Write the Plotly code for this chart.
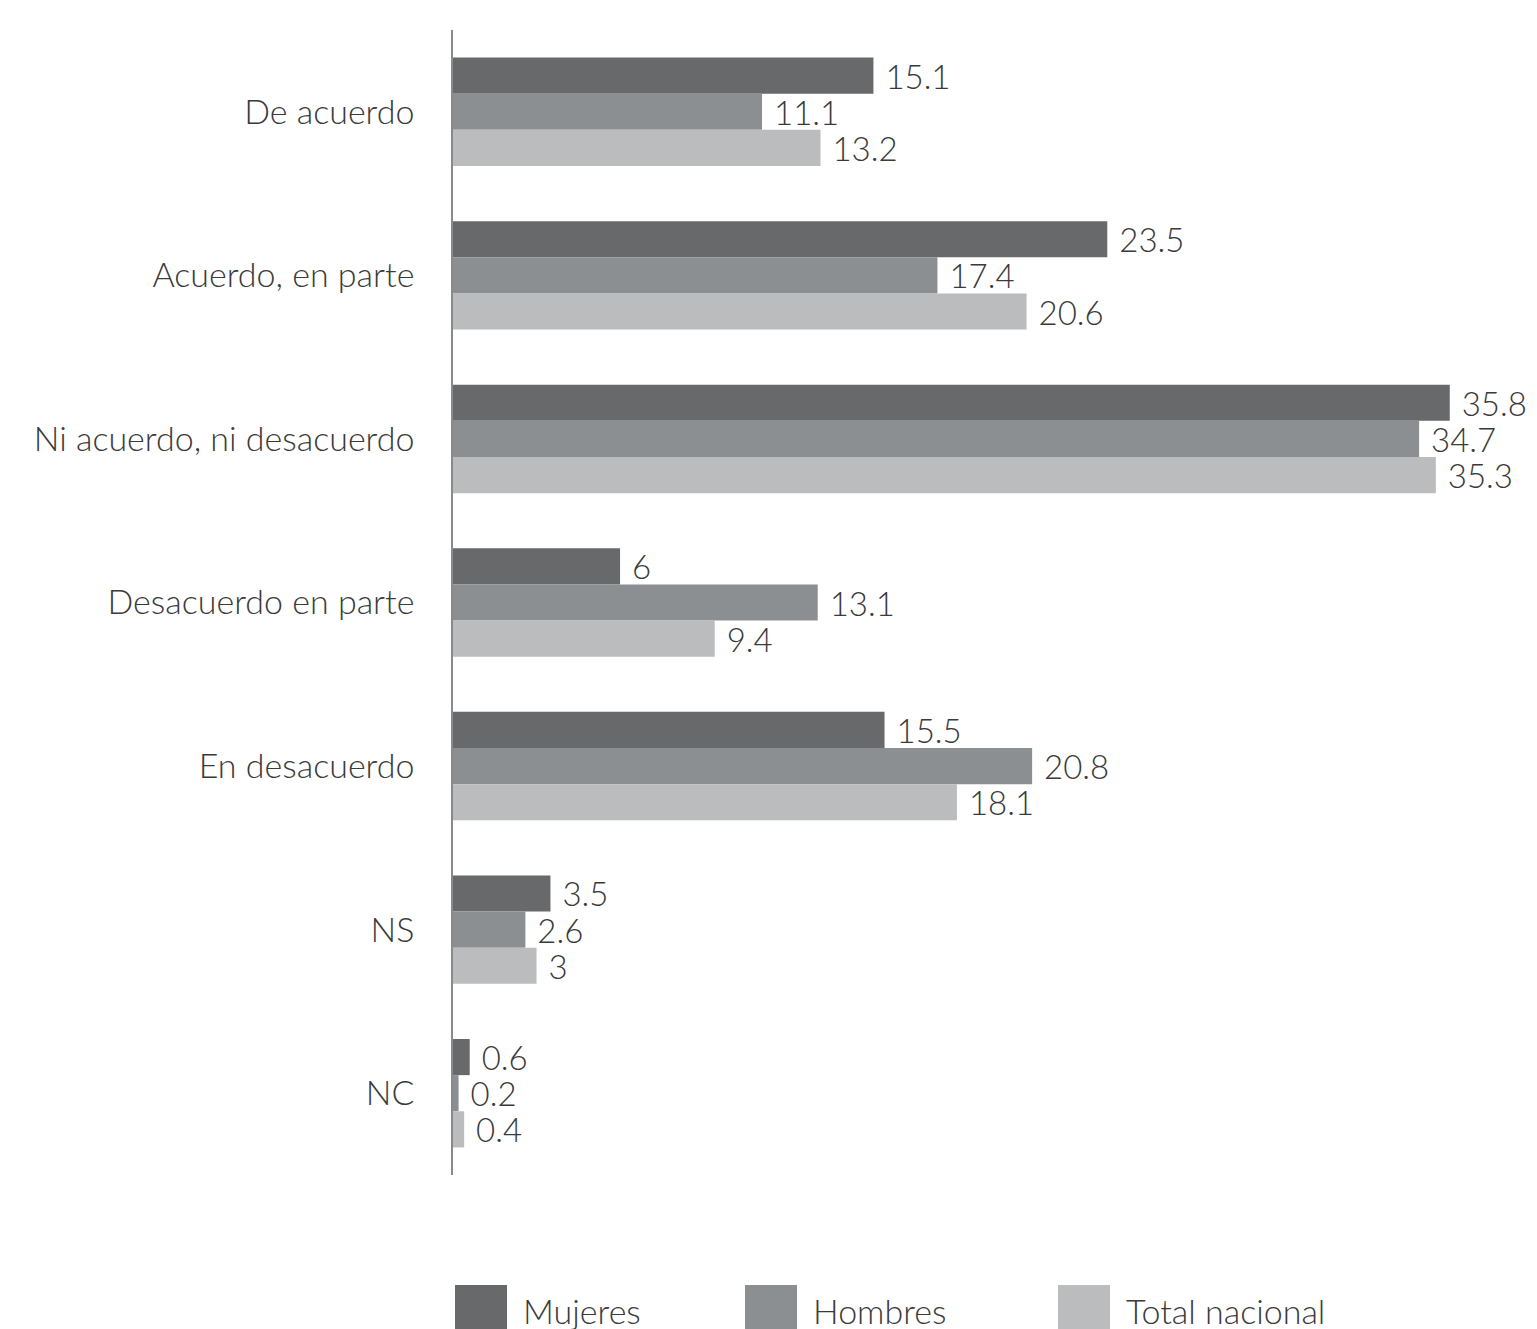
import plotly.graph_objects as go

categories = ["De acuerdo", "Acuerdo, en parte", "Ni acuerdo, ni desacuerdo",
              "Desacuerdo en parte", "En desacuerdo", "NS", "NC"]
mujeres = [15.1, 23.5, 35.8, 6, 15.5, 3.5, 0.6]
hombres = [11.1, 17.4, 34.7, 13.1, 20.8, 2.6, 0.2]
total_nacional = [13.2, 20.6, 35.3, 9.4, 18.1, 3, 0.4]

series = [("Mujeres", mujeres, "#67696b"),
          ("Hombres", hombres, "#8c8f91"),
          ("Total nacional", total_nacional, "#bbbcbd")]

FONT = "Lato"
TEXT_COLOR = "#3a3a3a"

fig = go.Figure()
for name, vals, color in series:
    fig.add_trace(go.Bar(
        y=categories, x=vals, name=name, orientation="h",
        marker=dict(color=color, line=dict(width=0)),
        text=vals, texttemplate=" %{x}", textposition="outside",
        constraintext="none", cliponaxis=False,
        textfont=dict(family=FONT, size=33, color=TEXT_COLOR, weight=300),
        showlegend=False,
    ))

# hand-built legend with large swatches (page has an 8px body margin)
W, H = 1537, 1329
OFF = 8
L, R, T, B = 445, 34, 22, 162
pw, ph = W - L - R, H - T - B
swatch_x = [455, 745, 1058]
for (name, _, color), sx in zip(series, swatch_x):
    sx -= OFF
    fig.add_shape(type="rect", xref="paper", yref="paper",
                  x0=(sx - L) / pw, x1=(sx + 52 - L) / pw,
                  y0=(T + ph - (1285 - OFF)) / ph, y1=(T + ph - (1345 - OFF)) / ph,
                  fillcolor=color, line=dict(width=0))
    fig.add_annotation(text=name, xref="paper", yref="paper",
                       x=(sx + 66 - L) / pw, y=(T + ph - (1310 - OFF)) / ph,
                       xanchor="left", yanchor="middle", showarrow=False,
                       font=dict(family=FONT, size=34, color=TEXT_COLOR, weight=300))

fig.update_layout(
    width=W, height=H,
    margin=dict(l=L, r=R, t=T, b=B),
    barmode="group", bargap=0.337, bargroupgap=0,
    plot_bgcolor="white", paper_bgcolor="white",
    xaxis=dict(range=[0, 38], visible=False),
    yaxis=dict(autorange="reversed", showline=True, linecolor="#8a8a8a",
               linewidth=1.5, ticks="", ticklabelstandoff=30, showgrid=False,
               tickfont=dict(family=FONT, size=34, color=TEXT_COLOR, weight=300)),
)

fig.write_html("out.html")
